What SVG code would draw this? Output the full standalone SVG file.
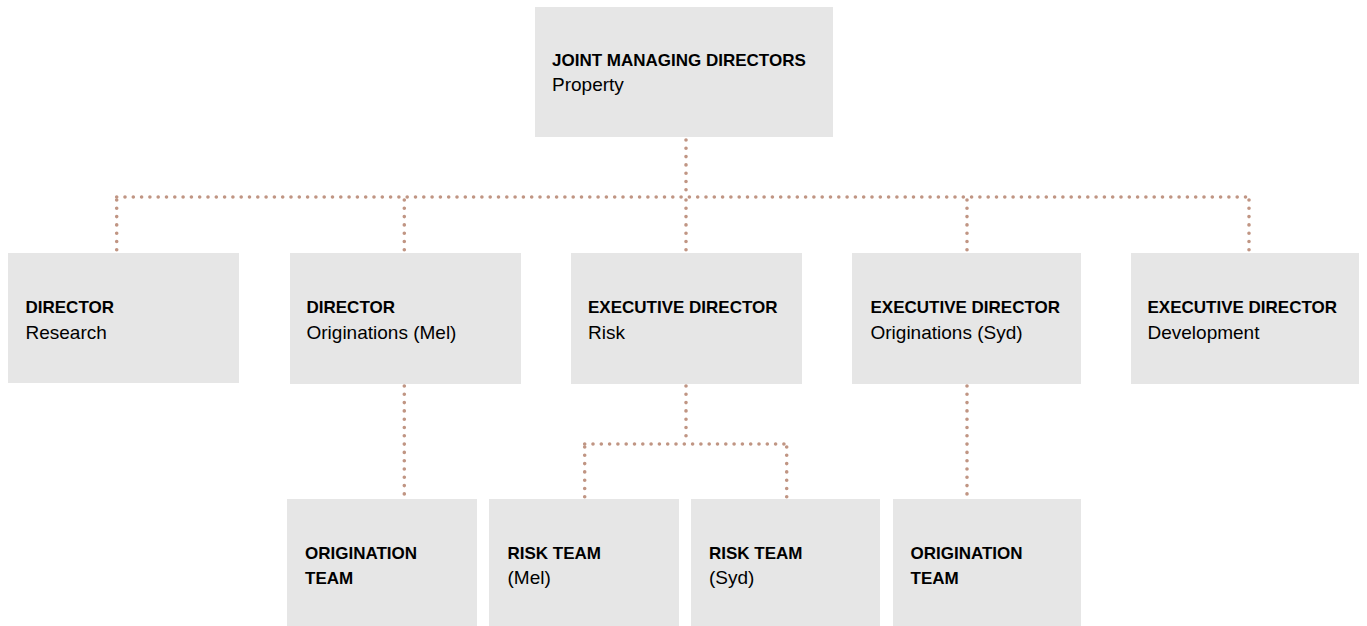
<svg xmlns="http://www.w3.org/2000/svg" width="1367" height="626" viewBox="0 0 1367 626">
<style>
.box{fill:#E6E6E6}
.t{font-family:"Liberation Sans",Arial,sans-serif;fill:#000}
.b{font-weight:bold;font-size:17px}
.r{font-size:19px}
.c{fill:none;stroke:#C09583;stroke-width:3.6;stroke-linecap:round;stroke-dasharray:0 8.3}
</style>
<rect width="1367" height="626" fill="#FFFFFF"/>
<g id="connectors">
<path class="c" d="M686,140 V197"/>
<path class="c" d="M116.7,197 H1249"/>
<path class="c" d="M116.7,200 V252"/>
<path class="c" d="M404.3,200 V252"/>
<path class="c" d="M686,200 V252"/>
<path class="c" d="M967,200 V252"/>
<path class="c" d="M1249,200 V252"/>
<path class="c" d="M404.3,386 V497"/>
<path class="c" d="M967,386 V497"/>
<path class="c" d="M686,386 V444"/>
<path class="c" d="M584.7,444 H786.7"/>
<path class="c" d="M584.7,447 V497"/>
<path class="c" d="M786.7,447 V497"/>
</g>
<g id="jmd">
<rect class="box" x="535" y="7" width="298" height="130"/>
<text class="t b" x="552" y="66">JOINT MANAGING DIRECTORS</text>
<text class="t r" x="552" y="91">Property</text>
</g>
<g id="dir-research">
<rect class="box" x="8" y="253" width="231" height="130"/>
<text class="t b" x="25.5" y="313">DIRECTOR</text>
<text class="t r" x="25.5" y="339">Research</text>
</g>
<g id="dir-orig-mel">
<rect class="box" x="290" y="253" width="231" height="131"/>
<text class="t b" x="306.5" y="313">DIRECTOR</text>
<text class="t r" x="306.5" y="339">Originations (Mel)</text>
</g>
<g id="exec-risk">
<rect class="box" x="571" y="253" width="231" height="131"/>
<text class="t b" x="588" y="313">EXECUTIVE DIRECTOR</text>
<text class="t r" x="588" y="339">Risk</text>
</g>
<g id="exec-orig-syd">
<rect class="box" x="852" y="253" width="229" height="131"/>
<text class="t b" x="870.5" y="313">EXECUTIVE DIRECTOR</text>
<text class="t r" x="870.5" y="339">Originations (Syd)</text>
</g>
<g id="exec-dev">
<rect class="box" x="1131" y="253" width="228" height="131"/>
<text class="t b" x="1147.5" y="313">EXECUTIVE DIRECTOR</text>
<text class="t r" x="1147.5" y="339">Development</text>
</g>
<g id="orig-team-mel">
<rect class="box" x="287" y="499" width="190" height="127"/>
<text class="t b" x="305" y="559">ORIGINATION</text>
<text class="t b" x="305" y="584">TEAM</text>
</g>
<g id="risk-team-mel">
<rect class="box" x="489" y="499" width="190" height="127"/>
<text class="t b" x="507.5" y="559">RISK TEAM</text>
<text class="t r" x="507.5" y="584">(Mel)</text>
</g>
<g id="risk-team-syd">
<rect class="box" x="691" y="499" width="189" height="127"/>
<text class="t b" x="709" y="559">RISK TEAM</text>
<text class="t r" x="709" y="584">(Syd)</text>
</g>
<g id="orig-team-syd">
<rect class="box" x="893" y="499" width="188" height="127"/>
<text class="t b" x="910.5" y="559">ORIGINATION</text>
<text class="t b" x="910.5" y="584">TEAM</text>
</g>
</svg>
